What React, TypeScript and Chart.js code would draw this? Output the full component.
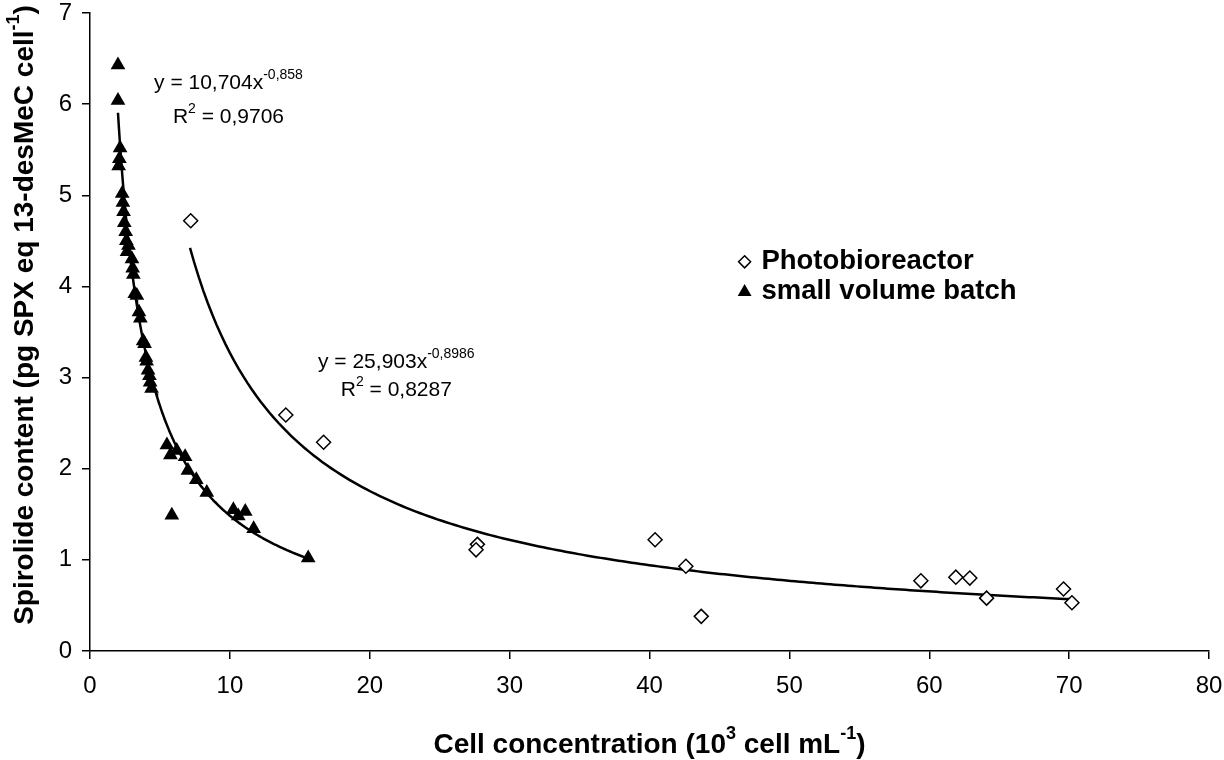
import { useEffect, useRef } from "react";
import { Chart, registerables } from "chart.js";

Chart.register(...registerables);

// Photobioreactor (open diamonds)
const photoX = [7.2, 14.0, 16.7, 27.7, 27.6, 40.4, 42.6, 43.7, 59.4, 61.9, 62.9, 64.1, 69.6, 70.2];
const photoY = [4.72, 2.59, 2.29, 1.17, 1.11, 1.22, 0.93, 0.38, 0.77, 0.81, 0.80, 0.58, 0.68, 0.53];

// small volume batch (filled triangles)
const batchX = [2.0, 2.0, 2.15, 2.1, 2.05, 2.3, 2.35, 2.4, 2.45, 2.55, 2.6, 2.75, 2.65, 3.0, 3.05, 3.1, 3.2, 3.35, 3.5, 3.6, 3.8, 3.9, 4.0, 4.05, 4.15, 4.25, 4.3, 4.4, 5.5, 5.75, 6.2, 6.8, 7.0, 7.6, 8.35, 5.85, 10.25, 10.6, 11.1, 11.7, 15.6];
const batchY = [6.43, 6.04, 5.52, 5.40, 5.32, 5.02, 4.92, 4.82, 4.70, 4.60, 4.50, 4.45, 4.38, 4.30, 4.20, 4.13, 3.92, 3.90, 3.72, 3.65, 3.40, 3.37, 3.22, 3.18, 3.08, 3.02, 2.95, 2.88, 2.26, 2.15, 2.20, 2.13, 1.98, 1.88, 1.74, 1.49, 1.55, 1.48, 1.53, 1.34, 1.02];

// Power trendlines printed on the chart: y = a * x^b
const photoFit = { a: 25.903, b: -0.8986, from: 7.15, to: 70.3 };
const batchFit = { a: 10.704, b: -0.858, from: 2.0, to: 15.6 };

const xTicks = { min: 0, max: 80, step: 10 };
const yTicks = { min: 0, max: 7, step: 1 };

const FONT = "'Liberation Sans', Arial, Helvetica, sans-serif";

function fitPoints(f: { a: number; b: number; from: number; to: number }) {
  const pts: { x: number; y: number }[] = [];
  const n = 200;
  for (let i = 0; i <= n; i++) {
    const x = f.from + ((f.to - f.from) * i) / n;
    pts.push({ x, y: f.a * Math.pow(x, f.b) });
  }
  return pts;
}

type Seg = { t: string; sup?: boolean };

function drawRich(
  ctx: CanvasRenderingContext2D,
  segs: Seg[],
  cx: number,
  cy: number,
  size: number,
  bold: boolean,
  align: "center" | "left"
) {
  const supSize = Math.round(size * 0.65);
  const w = bold ? "bold " : "";
  let total = 0;
  const widths = segs.map((s) => {
    ctx.font = `${w}${s.sup ? supSize : size}px ${FONT}`;
    const m = ctx.measureText(s.t).width;
    total += m;
    return m;
  });
  let x = align === "center" ? cx - total / 2 : cx;
  ctx.textBaseline = "middle";
  ctx.textAlign = "left";
  segs.forEach((s, i) => {
    ctx.font = `${w}${s.sup ? supSize : size}px ${FONT}`;
    ctx.fillText(s.t, x, s.sup ? cy - size * 0.38 : cy);
    x += widths[i];
  });
}

const textPlugin = {
  id: "texts",
  afterDraw(chart: any) {
    const ctx: CanvasRenderingContext2D = chart.ctx;
    const xs = chart.scales.x;
    const ys = chart.scales.y;
    const ca = chart.chartArea;
    ctx.save();
    ctx.fillStyle = "#000";

    // axis titles
    drawRich(
      ctx,
      [{ t: "Cell concentration (10" }, { t: "3", sup: true }, { t: " cell mL" }, { t: "-1", sup: true }, { t: ")" }],
      (ca.left + ca.right) / 2,
      745,
      28,
      true,
      "center"
    );
    ctx.save();
    ctx.translate(25, 315);
    ctx.rotate(-Math.PI / 2);
    drawRich(
      ctx,
      [{ t: "Spirolide content (pg SPX eq 13-desMeC cell" }, { t: "-1", sup: true }, { t: ")" }],
      0,
      0,
      28,
      true,
      "center"
    );
    ctx.restore();

    // equations
    drawRich(ctx, [{ t: "y = 10,704x" }, { t: "-0,858", sup: true }], xs.getPixelForValue(9.9), ys.getPixelForValue(6.23), 21, false, "center");
    drawRich(ctx, [{ t: "R" }, { t: "2", sup: true }, { t: " = 0,9706" }], xs.getPixelForValue(9.9), ys.getPixelForValue(5.86), 21, false, "center");
    drawRich(ctx, [{ t: "y = 25,903x" }, { t: "-0,8986", sup: true }], xs.getPixelForValue(21.9), ys.getPixelForValue(3.17), 21, false, "center");
    drawRich(ctx, [{ t: "R" }, { t: "2", sup: true }, { t: " = 0,8287" }], xs.getPixelForValue(21.9), ys.getPixelForValue(2.86), 21, false, "center");

    // legend
    const mx = xs.getPixelForValue(46.8);
    const tx = xs.getPixelForValue(48.0);
    const l1 = ys.getPixelForValue(4.27);
    const l2 = ys.getPixelForValue(3.94);
    ctx.lineWidth = 1.5;
    ctx.strokeStyle = "#000";
    ctx.beginPath();
    ctx.moveTo(mx, l1 - 6);
    ctx.lineTo(mx + 6, l1);
    ctx.lineTo(mx, l1 + 6);
    ctx.lineTo(mx - 6, l1);
    ctx.closePath();
    ctx.fillStyle = "#fff";
    ctx.fill();
    ctx.stroke();
    ctx.fillStyle = "#000";
    const r = 8;
    ctx.beginPath();
    ctx.moveTo(mx, l2 - r);
    ctx.lineTo(mx + r * 0.866, l2 + r * 0.5);
    ctx.lineTo(mx - r * 0.866, l2 + r * 0.5);
    ctx.closePath();
    ctx.fill();
    drawRich(ctx, [{ t: "Photobioreactor" }], tx, l1, 27.5, true, "left");
    drawRich(ctx, [{ t: "small volume batch" }], tx, l2, 27.5, true, "left");

    ctx.restore();
  },
};

export default function App() {
  const ref = useRef<HTMLCanvasElement | null>(null);
  useEffect(() => {
    document.body.style.margin = "0";
    const canvas = ref.current!;
    const chart = new Chart(canvas, {
      type: "scatter",
      data: {
        datasets: [
          {
            label: "small volume batch",
            data: batchX.map((x, i) => ({ x, y: batchY[i] })),
            pointStyle: "triangle",
            pointRadius: 8.5,
            backgroundColor: "#000",
            borderColor: "#000",
            borderWidth: 0,
            order: 0,
          },
          {
            label: "Photobioreactor",
            data: photoX.map((x, i) => ({ x, y: photoY[i] })),
            pointStyle: "rectRot",
            pointRadius: 7,
            backgroundColor: "#fff",
            borderColor: "#000",
            borderWidth: 1.5,
            order: 1,
          },
          {
            label: "batch fit",
            data: fitPoints(batchFit),
            showLine: true,
            pointRadius: 0,
            borderColor: "#000",
            borderWidth: 2.5,
            order: 2,
          },
          {
            label: "photo fit",
            data: fitPoints(photoFit),
            showLine: true,
            pointRadius: 0,
            borderColor: "#000",
            borderWidth: 2.5,
            order: 2,
          },
        ],
      },
      options: {
        animation: false,
        responsive: false,
        devicePixelRatio: 1,
        layout: { padding: { top: 13, right: 15, left: 0, bottom: 0 } },
        plugins: { legend: { display: false }, tooltip: { enabled: false } },
        scales: {
          x: {
            type: "linear",
            min: xTicks.min,
            max: xTicks.max,
            ticks: { stepSize: xTicks.step, color: "#000", font: { size: 24, family: FONT }, padding: 13 },
            grid: { drawOnChartArea: false, tickLength: 8, color: "#000", lineWidth: 1.5 },
            border: { color: "#000", width: 1.5 },
            afterFit: (s: any) => {
              s.height = 109;
              s.paddingLeft = 0;
              s.paddingRight = 0;
            },
          },
          y: {
            type: "linear",
            min: yTicks.min,
            max: yTicks.max,
            ticks: { stepSize: yTicks.step, color: "#000", font: { size: 24, family: FONT }, padding: 10 },
            grid: { drawOnChartArea: false, tickLength: 8, color: "#000", lineWidth: 1.5 },
            border: { color: "#000", width: 1.5 },
            afterFit: (s: any) => {
              s.width = 90;
              s.paddingTop = 0;
              s.paddingBottom = 0;
            },
          },
        },
      },
      plugins: [textPlugin],
    });
    return () => chart.destroy();
  }, []);
  return <canvas ref={ref} width={1224} height={760} style={{ display: "block" }} />;
}
